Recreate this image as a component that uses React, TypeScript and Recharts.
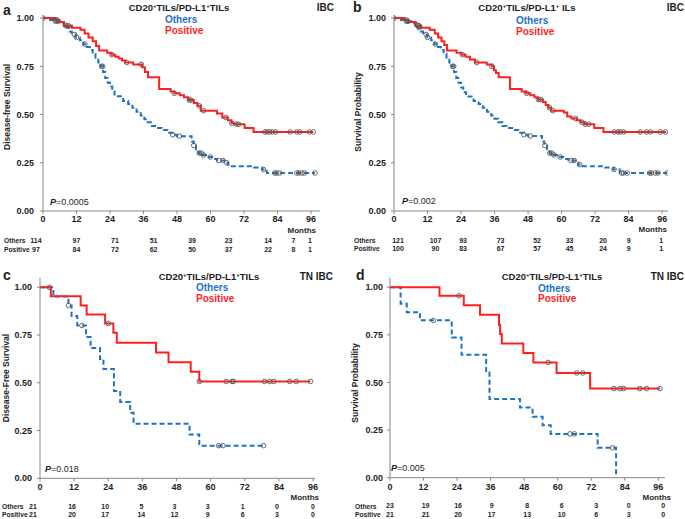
import React from 'react';
import { ComposedChart, Line, Scatter, XAxis, YAxis } from 'recharts';

const FONT = '"Liberation Sans", Arial, sans-serif';
const RED = '#ff1f1f';
const BLUE = '#1e72c4';
const INK = '#1e1e1e';
const AXIS = '#858585';

const MONTH_TICKS = [0, 12, 24, 36, 48, 60, 72, 84, 96];
const SURV_TICKS = [0, 0.25, 0.5, 0.75, 1];

// ---- panel a: IBC, disease-free survival ----
const aPosTimes = [0, 4.5, 5.8, 7.5, 10.4, 13.4, 14.9, 16.3, 17.8, 19.0, 20.1, 23.0, 24.5, 25.9, 27.1, 28.3, 29.5, 32.3, 35.5, 36.5, 37.6, 41.6, 45.7, 47.0, 49.0, 50.5, 52.0, 54.0, 55.3, 56.5, 62.3, 64.2, 66.2, 67.5, 68.5, 72.2, 75.4];
const aPosSurv = [1, 0.99, 0.98, 0.96, 0.95, 0.94, 0.92, 0.9, 0.88, 0.855, 0.832, 0.82, 0.81, 0.8, 0.79, 0.78, 0.77, 0.76, 0.745, 0.72, 0.693, 0.633, 0.62, 0.61, 0.6, 0.59, 0.575, 0.56, 0.545, 0.52, 0.505, 0.485, 0.47, 0.455, 0.45, 0.43, 0.41];
const aPosCens = [4.5, 5, 8.6, 9.2, 24.7, 30, 35.2, 47, 52.4, 53, 56, 57.5, 65.5, 67.6, 69.2, 70, 79.5, 80.3, 81.2, 82.2, 83.3, 88.5, 90.9, 92, 95.4, 96.8];
const aPosEnd = 96.8;
const aOthTimes = [0, 2.5, 4.3, 6, 7.5, 8.6, 9.5, 10.3, 11.8, 13.2, 14.5, 15.7, 16.8, 17.8, 18.8, 19.8, 20.6, 21.5, 22.3, 23.2, 24.0, 24.8, 25.6, 28.7, 30.5, 32.0, 33.5, 35.0, 36.3, 37.5, 39.0, 40.5, 42.5, 44.5, 46.5, 48.0, 53.2, 54.0, 54.8, 55.6, 57.0, 59.3, 61.0, 62.3, 65.5, 66.3, 67.0, 75.5, 78.5, 80.2];
const aOthSurv = [1, 0.99, 0.983, 0.975, 0.963, 0.95, 0.93, 0.915, 0.9, 0.885, 0.865, 0.85, 0.835, 0.815, 0.795, 0.77, 0.75, 0.72, 0.69, 0.665, 0.645, 0.62, 0.595, 0.57, 0.555, 0.535, 0.515, 0.495, 0.475, 0.46, 0.44, 0.43, 0.42, 0.405, 0.395, 0.388, 0.36, 0.34, 0.32, 0.3, 0.29, 0.28, 0.27, 0.262, 0.25, 0.24, 0.232, 0.225, 0.215, 0.197];
const aOthCens = [0, 4.5, 5.5, 8, 11.3, 12, 15, 21, 21.4, 46.5, 48.9, 54, 56, 56.7, 57.5, 59.9, 62.9, 64.4, 65.8, 79, 83, 83.7, 84.7, 90.9, 91.6, 92.7, 93.6, 97.4];
const aOthEnd = 97.4;
const aOthRisk = [114, 97, 71, 51, 39, 23, 14, 7, 1];
const aPosRisk = [97, 84, 72, 62, 50, 37, 22, 8, 1];

// ---- panel b: IBC, survival probability ----
const bPosTimes = [0, 3.8, 4.8, 7.8, 9.8, 12.8, 14.6, 15.8, 17.0, 18.0, 19.0, 22.4, 24.2, 25.6, 27.2, 29.0, 33.2, 35.0, 35.8, 36.5, 37.5, 41.5, 45.7, 47.3, 48.8, 50.3, 51.5, 53.3, 54.3, 55.3, 56.2, 60.8, 62.0, 63.5, 65.5, 66.8, 68.3, 71.7, 75.0];
const bPosSurv = [1, 0.99, 0.98, 0.96, 0.95, 0.94, 0.92, 0.9, 0.88, 0.86, 0.832, 0.82, 0.81, 0.8, 0.785, 0.77, 0.76, 0.75, 0.73, 0.715, 0.693, 0.633, 0.62, 0.61, 0.6, 0.59, 0.578, 0.565, 0.55, 0.535, 0.52, 0.51, 0.49, 0.48, 0.47, 0.46, 0.45, 0.43, 0.41];
const bPosCens = [4.5, 8.5, 9, 24.5, 29.6, 35, 47.5, 51.7, 52.5, 55.7, 56.9, 65, 67.3, 68.5, 69.7, 78.9, 80.2, 81, 82.2, 88.2, 90.4, 91.8, 95.4, 97.2];
const bPosEnd = 97.4;
const bOthTimes = [0, 2.5, 4.5, 6.2, 7.5, 8.6, 9.5, 10.4, 12.0, 13.3, 14.5, 15.7, 16.8, 17.8, 18.8, 19.8, 20.6, 21.5, 22.3, 23.1, 24.0, 24.8, 25.8, 28.5, 30.3, 31.8, 33.3, 34.8, 36.0, 37.3, 38.8, 40.3, 42.3, 44.5, 46.5, 48.0, 53.0, 53.8, 54.8, 55.7, 57.0, 59.5, 61.0, 62.5, 65.0, 66.0, 66.8, 75.6, 78.5, 80.8];
const bOthSurv = [1, 0.99, 0.983, 0.975, 0.963, 0.95, 0.93, 0.915, 0.9, 0.885, 0.865, 0.85, 0.835, 0.815, 0.795, 0.77, 0.75, 0.72, 0.69, 0.665, 0.64, 0.615, 0.593, 0.57, 0.555, 0.535, 0.515, 0.495, 0.478, 0.46, 0.44, 0.43, 0.42, 0.405, 0.395, 0.389, 0.36, 0.34, 0.32, 0.3, 0.29, 0.28, 0.27, 0.262, 0.25, 0.24, 0.232, 0.225, 0.215, 0.197];
const bOthCens = [0, 4.5, 5, 8.5, 9, 11.5, 12, 14.8, 21, 21.4, 46.5, 48.8, 54, 55.8, 56.5, 57.3, 59.5, 63.5, 64.5, 66.5, 78.8, 81.6, 82.2, 83.5, 91.5, 92.2, 93.5, 94.5, 97.8];
const bOthEnd = 97.8;
const bOthRisk = [121, 107, 93, 73, 52, 33, 20, 9, 1];
const bPosRisk = [100, 90, 83, 67, 57, 45, 24, 9, 1];

// ---- panel c: TN IBC, disease-free survival ----
const cPosTimes = [0, 3.8, 14.3, 16.4, 22.9, 25.8, 27.0, 40.8, 45.2, 53.0, 56.0];
const cPosSurv = [1, 0.953, 0.905, 0.857, 0.81, 0.762, 0.71, 0.658, 0.608, 0.558, 0.507];
const cPosCens = [24, 56, 65.5, 67.5, 68, 79, 80.8, 82.2, 87.8, 90.1, 95.1];
const cPosEnd = 95.1;
const cOthTimes = [0, 4.7, 10.0, 11.1, 13.1, 16.2, 17.8, 21.1, 22.3, 26.0, 28.2, 31.7, 32.9, 52.6, 56.0];
const cOthSurv = [1, 0.952, 0.905, 0.85, 0.8, 0.74, 0.682, 0.625, 0.572, 0.457, 0.4, 0.343, 0.286, 0.229, 0.171];
const cOthCens = [3.3, 10.0, 14.7, 62.8, 64.3, 78.6];
const cOthEnd = 78.6;
const cOthRisk = [21, 16, 10, 5, 3, 3, 1, 0, 0];
const cPosRisk = [21, 20, 17, 14, 12, 9, 6, 3, 0];

// ---- panel d: TN IBC, survival probability ----
const dPosTimes = [0, 17.7, 26.4, 32.2, 39.0, 39.4, 40.0, 47.7, 51.3, 59.6, 71.6];
const dPosSurv = [1, 0.955, 0.905, 0.855, 0.803, 0.755, 0.705, 0.655, 0.605, 0.55, 0.468];
const dPosCens = [24.7, 56.6, 66.8, 69, 80.1, 82.3, 83.6, 89.4, 91.8, 96.6];
const dPosEnd = 96.6;
const dOthTimes = [0, 3.8, 6.0, 10.7, 22.1, 25.6, 34.4, 35.6, 46.5, 51.0, 54.6, 57.5, 74.3, 80.9];
const dOthSurv = [1, 0.913, 0.869, 0.826, 0.736, 0.645, 0.552, 0.413, 0.368, 0.32, 0.275, 0.23, 0.157, 0];
const dOthCens = [15.5, 64.4, 66, 79.7];
const dOthEnd = 80.9;
const dOthRisk = [23, 19, 16, 9, 8, 6, 3, 0, 0];
const dPosRisk = [21, 21, 20, 17, 13, 10, 6, 3, 0];

type Pt = { x: number; y: number };

function stepPoints(times: number[], surv: number[], end: number): Pt[] {
  const pts = times.map((t, i) => ({ x: t, y: surv[i] }));
  if (end > times[times.length - 1]) pts.push({ x: end, y: surv[surv.length - 1] });
  return pts;
}

function survAt(times: number[], surv: number[], t: number) {
  let s = surv[0];
  for (let i = 0; i < times.length; i++) if (times[i] <= t) s = surv[i];
  return s;
}

function censPoints(times: number[], surv: number[], cens: number[]): Pt[] {
  return cens.map((t) => ({ x: t, y: survAt(times, surv, t) }));
}

const CensorMark = (props: any) => {
  const { cx, cy } = props;
  if (cx == null || cy == null) return null;
  return <circle cx={cx} cy={cy} r={2.3} fill="none" stroke="#5a5a5a" strokeWidth={0.9} />;
};

// title with superscript plus signs, kept on one baseline
function Title({ x, y, last }: { x: number; y: number; last: string }) {
  const t = { fontFamily: FONT, fontWeight: 700, fill: INK } as const;
  return (
    <text x={x} y={y} textAnchor="middle" fontSize={9.5} {...t}>
      CD20
      <tspan fontSize={6} baselineShift="super">+</tspan>
      TILs/PD-L1
      <tspan fontSize={6} baselineShift="super">+</tspan>
      {last}
    </text>
  );
}

interface PanelProps {
  left: number; top: number; width: number; height: number;
  plotLeft: number; plotRight: number; plotTop: number; plotBottom: number;
  xMax: number; yMax: number; yTickMargin: number;
  letter: string; letterX: number; letterY: number;
  titleLast: string; titleX: number; titleY: number;
  tag: string; tagX: number; tagY: number;
  legendX: number; othersY: number; positiveY: number;
  pText: string; pX: number; pY: number;
  yLabel: string; yLabelX: number; yLabelY: number;
  monthsX: number; monthsY: number; rowLabelX: number; row1Y: number; row2Y: number;
  tickDy: number; row1Dy: number; row2Dy: number; colShift: number[];
  posLine: Pt[]; othLine: Pt[]; posCens: Pt[]; othCens: Pt[];
  othRisk: number[]; posRisk: number[];
}

function Panel(p: PanelProps) {
  const txt = { fontFamily: FONT, fontWeight: 700, fill: INK } as const;
  const MonthTick = (props: any) => {
    const { x, y, payload } = props;
    const i = MONTH_TICKS.indexOf(payload.value);
    const xs = x + (p.colShift[i] ?? 0);
    return (
      <g>
        <text x={x} y={y + p.tickDy} textAnchor="middle" fontSize={9} {...txt}>{payload.value}</text>
        <text x={xs} y={y + p.row1Dy} textAnchor="middle" fontSize={7} {...txt}>{p.othRisk[i]}</text>
        <text x={xs} y={y + p.row2Dy} textAnchor="middle" fontSize={7} {...txt}>{p.posRisk[i]}</text>
      </g>
    );
  };

  return (
    <div style={{ position: 'absolute', left: p.left, top: p.top, width: p.width, height: p.height }}>
      <ComposedChart
        width={p.width}
        height={p.height}
        margin={{ top: p.plotTop, right: p.width - p.plotRight, left: 0, bottom: 0 }}
        style={{ fontFamily: FONT }}
      >
        <XAxis
          type="number"
          dataKey="x"
          domain={[0, p.xMax]}
          ticks={MONTH_TICKS}
          allowDataOverflow
          height={p.height - p.plotBottom}
          stroke={AXIS}
          tickSize={3}
          tickMargin={0}
          tick={<MonthTick />}
          interval={0}
        />
        <YAxis
          type="number"
          dataKey="y"
          domain={[0, p.yMax]}
          ticks={SURV_TICKS}
          allowDataOverflow
          width={p.plotLeft}
          stroke={AXIS}
          tickSize={3}
          tickMargin={p.yTickMargin}
          tickFormatter={(v: number) => v.toFixed(2)}
          tick={{ fontSize: 9, fontWeight: 700, fill: INK, fontFamily: FONT }}
          interval={0}
        />
        <Line data={p.othLine} dataKey="y" type="stepAfter" stroke={BLUE} strokeWidth={2}
          strokeDasharray="5 3" dot={false} activeDot={false} isAnimationActive={false} />
        <Line data={p.posLine} dataKey="y" type="stepAfter" stroke={RED} strokeWidth={2}
          dot={false} activeDot={false} isAnimationActive={false} />
        <Scatter data={p.othCens} dataKey="y" shape={<CensorMark />} isAnimationActive={false} />
        <Scatter data={p.posCens} dataKey="y" shape={<CensorMark />} isAnimationActive={false} />
      </ComposedChart>
      <svg width={p.width} height={p.height} style={{ position: 'absolute', left: 0, top: 0, pointerEvents: 'none' }}>
        <text x={p.letterX} y={p.letterY} fontSize={14} {...txt}>{p.letter}</text>
        <Title x={p.titleX} y={p.titleY} last={p.titleLast} />
        <text x={p.tagX} y={p.tagY} textAnchor="end" fontSize={10} {...txt}>{p.tag}</text>
        <text x={p.legendX} y={p.othersY} fontSize={10} {...txt} fill={BLUE}>Others</text>
        <text x={p.legendX} y={p.positiveY} fontSize={10} {...txt} fill={RED}>Positive</text>
        <text x={p.pX} y={p.pY} fontSize={9} fontFamily={FONT} fill={INK}>
          <tspan fontStyle="italic" fontWeight={700}>P</tspan>{p.pText}
        </text>
        <text x={p.yLabelX} y={p.yLabelY} textAnchor="middle" fontSize={8.5} {...txt}
          transform={`rotate(-90 ${p.yLabelX} ${p.yLabelY})`}>{p.yLabel}</text>
        <text x={p.monthsX} y={p.monthsY} textAnchor="end" fontSize={8} {...txt}>Months</text>
        <text x={p.rowLabelX} y={p.row1Y} fontSize={6.7} {...txt}>Others</text>
        <text x={p.rowLabelX} y={p.row2Y} fontSize={6.7} {...txt}>Positive</text>
      </svg>
    </div>
  );
}

export default function App() {
  return (
    <div style={{ position: 'absolute', left: 0, top: 0, width: 685, height: 519, background: '#fff', overflow: 'hidden' }}>
      <Panel
        left={0} top={0} width={340} height={259}
        plotLeft={43} plotRight={320} plotTop={15} plotBottom={211} xMax={99.2} yMax={1.016} yTickMargin={6}
        letter="a" letterX={3} letterY={15}
        titleLast="TILs" titleX={179} titleY={10.5}
        tag="IBC" tagX={334} tagY={10.5}
        legendX={165} othersY={23} positiveY={34}
        pText="=0.0005" pX={50} pY={205}
        yLabel="Disease-free Survival" yLabelX={10} yLabelY={107}
        monthsX={316} monthsY={233} rowLabelX={4} row1Y={243} row2Y={252}
        tickDy={7.5} row1Dy={29} row2Dy={38} colShift={[-7, 0, 5, 10, 15, 18, 24, 16, -1]}
        posLine={stepPoints(aPosTimes, aPosSurv, aPosEnd)}
        othLine={stepPoints(aOthTimes, aOthSurv, aOthEnd)}
        posCens={censPoints(aPosTimes, aPosSurv, aPosCens)}
        othCens={censPoints(aOthTimes, aOthSurv, aOthCens)}
        othRisk={aOthRisk} posRisk={aPosRisk}
      />
      <Panel
        left={340} top={0} width={345} height={259}
        plotLeft={54} plotRight={328} plotTop={15} plotBottom={211} xMax={98.1} yMax={1.016} yTickMargin={5}
        letter="b" letterX={13} letterY={11.5}
        titleLast=" ILs" titleX={187} titleY={10.5}
        tag="IBC" tagX={344} tagY={10.5}
        legendX={176} othersY={24} positiveY={34.5}
        pText="=0.002" pX={62} pY={204}
        yLabel="Survival Probability" yLabelX={21} yLabelY={112}
        monthsX={327} monthsY={232} rowLabelX={14} row1Y={243} row2Y={251}
        tickDy={8} row1Dy={29} row2Dy={37} colShift={[4, 8, 2, 6, 9, 8, 8, 0, -1]}
        posLine={stepPoints(bPosTimes, bPosSurv, bPosEnd)}
        othLine={stepPoints(bOthTimes, bOthSurv, bOthEnd)}
        posCens={censPoints(bPosTimes, bPosSurv, bPosCens)}
        othCens={censPoints(bOthTimes, bOthSurv, bOthCens)}
        othRisk={bOthRisk} posRisk={bPosRisk}
      />
      <Panel
        left={0} top={259} width={340} height={260}
        plotLeft={40} plotRight={315} plotTop={18.7} plotBottom={219.3} xMax={96.7} yMax={1.05} yTickMargin={5}
        letter="c" letterX={3} letterY={21}
        titleLast="TILs" titleX={209} titleY={20.5}
        tag="TN IBC" tagX={333} tagY={20.5}
        legendX={196} othersY={32} positiveY={42.5}
        pText="=0.018" pX={45} pY={212.5}
        yLabel="Disease-Free Survival" yLabelX={9} yLabelY={119}
        monthsX={319} monthsY={241} rowLabelX={2} row1Y={249.5} row2Y={257.5}
        tickDy={8.7} row1Dy={27.2} row2Dy={35.4} colShift={[-7, -2, -3, -1, -2, -3, -2, -2, 0]}
        posLine={stepPoints(cPosTimes, cPosSurv, cPosEnd)}
        othLine={stepPoints(cOthTimes, cOthSurv, cOthEnd)}
        posCens={censPoints(cPosTimes, cPosSurv, cPosCens)}
        othCens={censPoints(cOthTimes, cOthSurv, cOthCens)}
        othRisk={cOthRisk} posRisk={cPosRisk}
      />
      <Panel
        left={340} top={259} width={345} height={260}
        plotLeft={50} plotRight={325} plotTop={18.7} plotBottom={218.7} xMax={98.4} yMax={1.05} yTickMargin={4}
        letter="d" letterX={16} letterY={21}
        titleLast="TILs" titleX={212} titleY={20.5}
        tag="TN IBC" tagX={344} tagY={20.5}
        legendX={198} othersY={32.5} positiveY={43}
        pText="=0.005" pX={51} pY={212}
        yLabel="Survival Probability" yLabelX={18} yLabelY={124}
        monthsX={331} monthsY={241} rowLabelX={15} row1Y={249.5} row2Y={257.5}
        tickDy={9.3} row1Dy={27.6} row2Dy={36} colShift={[0, 2, 1, 1, 3, 4, 5, 4, 5]}
        posLine={stepPoints(dPosTimes, dPosSurv, dPosEnd)}
        othLine={stepPoints(dOthTimes, dOthSurv, dOthEnd)}
        posCens={censPoints(dPosTimes, dPosSurv, dPosCens)}
        othCens={censPoints(dOthTimes, dOthSurv, dOthCens)}
        othRisk={dOthRisk} posRisk={dPosRisk}
      />
    </div>
  );
}
